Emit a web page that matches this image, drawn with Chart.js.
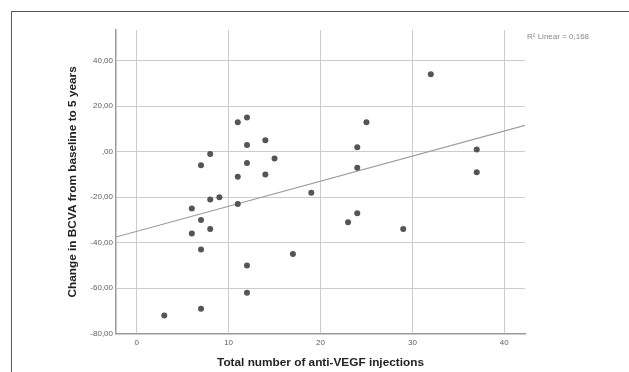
<!DOCTYPE html>
<html>
<head>
<meta charset="utf-8">
<script src="https://cdn.jsdelivr.net/npm/chart.js@4.4.1/dist/chart.umd.min.js"></script>
<style>
    html, body { margin: 0; padding: 0; background: #ffffff; overflow: hidden; }
    #wrap { position: relative; width: 629px; height: 372px; }
    #frame { position: absolute; left: 11px; top: 11px; width: 640px; height: 400px; border: 1px solid #5a5a5a; box-sizing: border-box; }
    #chartScatter { position: absolute; left: 0; top: 0; }
</style>
</head>
<body>
<div id="wrap">
    <div id="frame"></div>
    <canvas id="chartScatter" width="629" height="372"></canvas>
</div>
<script>
// Data
const injections = [32, 11, 12, 25, 14, 12, 24, 8, 37, 7, 12, 15, 24, 14, 11, 37, 19,
    8, 9, 11, 6, 7, 24, 23, 6, 8, 29, 7, 17, 12, 12, 7, 3];
const bcvaChange = [34, 13, 15, 13, 5, 3, 2, -1, 1, -6, -5, -3, -7, -10, -11, -9, -18,
    -21, -20, -23, -25, -30, -27, -31, -36, -34, -34, -43, -45, -50, -62, -69, -72];

// Fit line ends (as drawn, at the plot edges)
const fitX = [-2.25, 42.25];
const fitY = [-37.5, 11.6];

const xTicks = [0, 10, 20, 30, 40];
const yTicks = [-80, -60, -40, -20, 0, 20, 40];
const rSquaredLabel = 'R\u00b2 Linear = 0,168';

const points = injections.map((v, i) => ({ x: v, y: bcvaChange[i] }));
const fitPoints = fitX.map((v, i) => ({ x: v, y: fitY[i] }));

function fmtComma(v) {
    if (v === 0) return ',00';
    return v.toFixed(2).replace('.', ',');
}

const rLabelPlugin = {
    id: 'rLabel',
    afterDraw(chart) {
        const c = chart.ctx;
        const area = chart.chartArea;
        c.save();
        c.font = '8px "Liberation Sans", Arial, sans-serif';
        c.fillStyle = '#888888';
        c.textAlign = 'left';
        c.textBaseline = 'middle';
        c.fillText(rSquaredLabel, area.right + 2, area.top + 7);
        c.restore();
    }
};

const ctx = document.getElementById('chartScatter').getContext('2d');
const chart = new Chart(ctx, {
    type: 'scatter',
    data: {
        datasets: [
            {
                label: 'Patients',
                data: points,
                backgroundColor: '#555555',
                borderWidth: 0,
                pointRadius: 3,
                order: 1
            },
            {
                type: 'line',
                label: 'Linear',
                data: fitPoints,
                borderColor: '#9c9c9c',
                borderWidth: 1.2,
                pointRadius: 0,
                fill: false,
                tension: 0,
                order: 2
            }
        ]
    },
    options: {
        responsive: false,
        animation: false,
        devicePixelRatio: 1,
        layout: {
            padding: { left: 0, top: 30, right: 104, bottom: 0 }
        },
        plugins: {
            legend: { display: false },
            tooltip: { enabled: false }
        },
        scales: {
            x: {
                type: 'linear',
                min: -2.25,
                max: 42.25,
                afterBuildTicks: s => { s.ticks = xTicks.map(v => ({ value: v })); },
                afterFit: s => { s.height = 38.3; },
                grid: { color: '#cccccc', lineWidth: 1, drawTicks: false },
                border: { color: '#9a9a9a', width: 1.5 },
                ticks: {
                    padding: 4,
                    color: '#5e5e5e',
                    font: { family: '"Liberation Sans", Arial, sans-serif', size: 8 }
                },
                title: {
                    display: true,
                    text: 'Total number of anti-VEGF injections',
                    color: '#222222',
                    padding: { top: 0, bottom: 1.8 },
                    font: { family: '"Liberation Sans", Arial, sans-serif', size: 11.8, weight: 'bold' }
                }
            },
            y: {
                type: 'linear',
                min: -80,
                max: 53.5,
                afterBuildTicks: s => { s.ticks = yTicks.map(v => ({ value: v })); },
                afterFit: s => { s.width = 116; },
                grid: { color: '#cccccc', lineWidth: 1, drawTicks: false },
                border: { color: '#9a9a9a', width: 1.5 },
                ticks: {
                    padding: 3,
                    color: '#5e5e5e',
                    font: { family: '"Liberation Sans", Arial, sans-serif', size: 8 },
                    callback: v => fmtComma(v)
                },
                title: {
                    display: true,
                    text: 'Change in BCVA from baseline to 5 years',
                    color: '#222222',
                    padding: { top: 65.9, bottom: 0 },
                    font: { family: '"Liberation Sans", Arial, sans-serif', size: 11.8, weight: 'bold' }
                }
            }
        }
    },
    plugins: [rLabelPlugin]
});
</script>
</body>
</html>
